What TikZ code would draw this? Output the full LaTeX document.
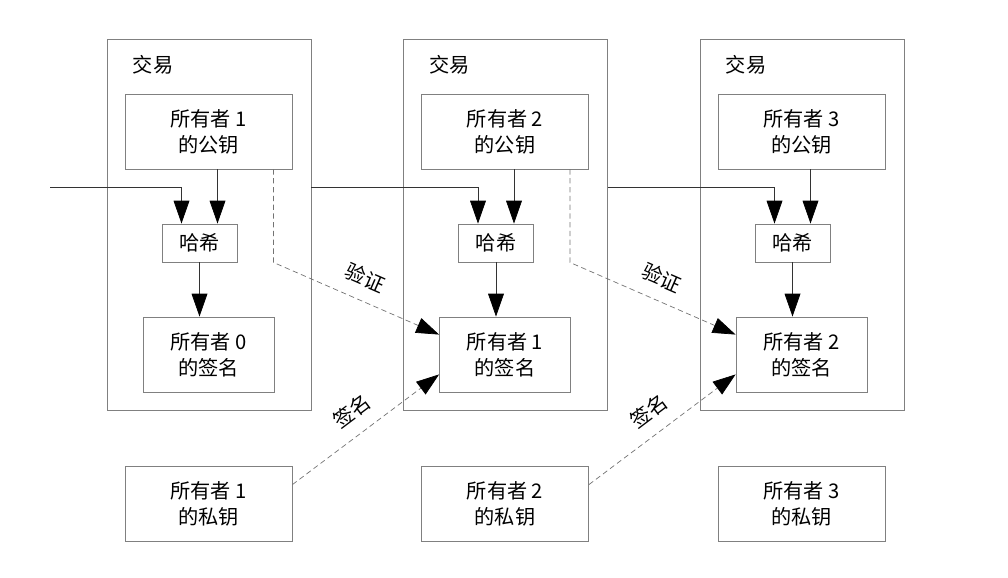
\documentclass[tikz,border=0pt]{standalone}
\usepackage{fontspec}
\setmainfont{Noto Sans CJK SC}
\usetikzlibrary{positioning,calc,arrows.meta}

\begin{document}
\begin{tikzpicture}[x=0.02cm,y=-0.02cm,
    every node/.style={font=\fontsize{11.5}{14.8}\selectfont},
    box/.style={draw=black!50,line width=0.5pt,align=center,inner sep=2pt},
    txbox/.style={draw=black!50,line width=0.5pt,minimum width=4.08cm,minimum height=7.42cm},
    link/.style={draw=black!80,line width=0.4pt,-{Triangle[length=13pt,width=9pt,black]}},
    dlink/.style={draw=black!55,line width=0.4pt,dash pattern=on 3pt off 2pt,-{Triangle[length=13pt,width=9pt,black]}}]
    \useasboundingbox (0,0) rectangle (1008,578);
    % three transactions side by side
    \foreach \i in {1,2,3}{
        \pgfmathsetmacro{\x}{(\i-1)*296.5}
        \pgfmathtruncatemacro{\j}{\i-1}
        \node[txbox] (tx\i) at (\x+209,224.5) {};
        \node (lbl\i) at (\x+153,65) {交易};
        \node[box,minimum width=3.34cm,minimum height=1.5cm] (pub\i) at (\x+208.5,131.5) {所有者 \i\\的公钥};
        \node[box,minimum width=1.5cm,minimum height=0.76cm] (hash\i) at (\x+199.5,243) {哈希};
        \node[box,minimum width=2.62cm,minimum height=1.5cm] (sig\i) at (\x+208.5,354.5) {所有者 \j\\的签名};
        \node[box,minimum width=3.34cm,minimum height=1.5cm] (priv\i) at (\x+208.5,503.5) {所有者 \i\\的私钥};
    }
    \foreach \i in {1,2,3}{
        \coordinate (hr\i) at ($(hash\i.north)+(18,0)$);
        \draw[link] (pub\i.south -| hr\i) -- (hr\i);
        \draw[link] (hash\i.south) -- (hash\i.south |- sig\i.north);
    }
    % chain of previous transactions
    \coordinate (start) at (50,187);
    \draw[link] (start) -| ($(hash1.north)+(-18,0)$);
    \draw[link] (tx1.east |- start) -| ($(hash2.north)+(-18,0)$);
    \draw[link] (tx2.east |- start) -| ($(hash3.north)+(-18,0)$);
    % verify and sign
    \foreach \i in {1,2}{
        \pgfmathtruncatemacro{\k}{\i+1}
        \coordinate (vs\i) at ($(pub\i.south east)+(-19,0)$);
        \draw[dlink] (vs\i) -- (vs\i |- hash\i.south)
            -- node[above=4pt,sloped] {验证} ($(sig\k.north west)+(0,18)$);
        \draw[dlink] ($(priv\i.north east)+(0,19)$)
            -- node[above=4pt,sloped] {签名} ($(sig\k.south west)+(0,-18)$);
    }
\end{tikzpicture}
\end{document}
